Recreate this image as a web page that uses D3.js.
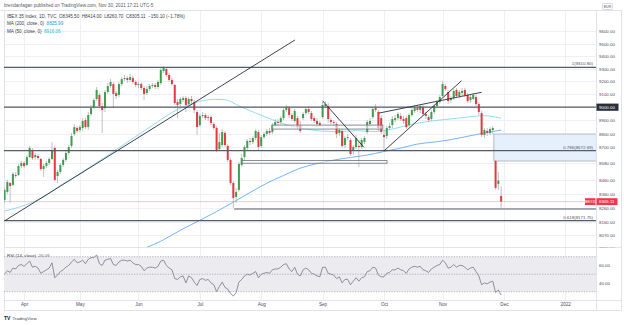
<!DOCTYPE html>
<html><head><meta charset="utf-8">
<script src="https://cdn.jsdelivr.net/npm/d3@7"></script>
<style>html,body{margin:0;padding:0;background:#fff;}svg{display:block;font-family:"Liberation Sans",Arial,sans-serif;}</style>
</head><body><svg id="c" width="624" height="325"></svg>
<script>
// ---------- DATA (daily bars, 23 Mar 2021 .. 30 Nov 2021, by bar index) ----------
const open = [8317,8374,8438,8424,8495,8495,8561,8583,8568,8626,
8678,8626,8634,8612,8539,8561,8583,8612,8693,8488,
8517,8568,8605,8656,8708,8797,8842,8827,8842,8902,
8849,8948,9001,9063,9094,9009,8993,9117,9164,9179,
9109,9094,9179,9218,9226,9211,9226,9195,9172,9179,
9148,9109,9140,9164,9172,9156,9187,9281,9297,9250,
9211,9172,9040,9024,9055,9070,9024,9063,9040,8963,
8864,8933,8940,8917,8925,8872,8842,8685,8715,8805,
8708,8605,8438,8338,8388,8568,8626,8693,8745,8737,
8767,8812,8708,8774,8797,8820,8812,8864,8887,8887,
8917,8978,8993,8940,8895,8917,8864,8917,8955,8986,
8955,8917,8895,8880,8925,9009,9009,8902,8887,8872,
8805,8820,8715,8767,8752,8671,8700,8708,8700,8737,
8812,8872,8925,8993,8963,8917,8790,8782,8842,8864,
8902,8917,8933,8910,8917,8864,8940,8971,8993,8978,
9001,8948,8925,8910,8963,9009,9040,9086,9164,9117,
9055,9070,9133,9086,9109,9133,9094,9055,9063,9078,
9024,8955,8790,8820,8805,8827,8597,8431,8345.5];
const high = [8402,8460,8445,8517,8517,8576,8597,8597,8641,8708,
8693,8656,8649,8619,8576,8597,8626,8737,8708,8532,
8583,8619,8671,8715,8805,8872,8857,8864,8917,8917,
8963,9017,9070,9156,9109,9032,9133,9187,9218,9195,
9125,9195,9234,9250,9242,9258,9242,9211,9195,9195,
9164,9164,9179,9187,9187,9211,9313,9321,9313,9266,
9226,9179,9063,9078,9086,9086,9078,9086,9055,8978,
8948,8963,8955,8940,8940,8887,8857,8805,8834,8820,
8722,8619,8452,8402,8590,8649,8715,8760,8767,8782,
8834,8827,8790,8812,8834,8842,8880,8910,8910,8933,
8993,9017,9009,8955,8986,8933,8895,8963,9001,9009,
8971,8933,8917,8895,9040,9047,9032,8917,8902,8887,
8842,8834,8782,8797,8767,8715,8790,8752,8767,8782,
8902,8917,9001,9024,8978,8940,8827,8857,8880,8933,
8940,8963,8955,8933,8933,8955,8993,9009,9017,9024,
9017,8963,8940,8978,9024,9055,9094,9203,9179,9133,
9086,9140,9148,9133,9148,9148,9109,9094,9109,9094,
9040,8971,8842,8842,8849,8857,8605,8517,8414];
const low = [8296,8360,8296,8416,8474,8488,8546,8546,8561,8619,
8605,8605,8605,8524,8481,8546,8568,8605,8452,8438,
8503,8553,8590,8641,8693,8782,8805,8812,8820,8834,
8827,8933,8986,9047,8993,8805,8963,9102,9148,8993,
9063,9078,9164,9203,9187,9195,9179,9156,9148,9133,
9055,9094,9125,9148,9140,9140,9172,9266,9234,9195,
9164,9017,8917,9001,9040,8963,9009,9024,8955,8790,
8849,8917,8902,8895,8864,8827,8663,8671,8700,8700,
8590,8424,8260,8296,8374,8553,8605,8678,8715,8722,
8752,8678,8693,8760,8782,8790,8797,8849,8864,8872,
8902,8963,8917,8895,8880,8834,8805,8902,8940,8948,
8895,8880,8849,8849,8910,8993,8880,8872,8857,8767,
8782,8693,8693,8752,8634,8641,8685,8553,8685,8722,
8797,8849,8910,8963,8820,8797,8678,8760,8827,8842,
8887,8902,8895,8872,8834,8849,8925,8955,8963,8955,
8933,8910,8887,8895,8948,8993,9024,9078,9125,9024,
9032,9055,9070,9070,9086,9078,9032,9032,9055,9009,
8940,8774,8767,8782,8790,8797,8388,8388,8260.7];
const close = [8388,8445,8416,8503,8488,8561,8583,8561,8626,8693,
8619,8641,8619,8539,8561,8583,8612,8678,8460,8517,
8568,8605,8656,8700,8782,8849,8820,8849,8895,8849,
8940,8993,9055,9133,9009,8978,9117,9164,9195,9102,
9086,9179,9218,9226,9211,9234,9195,9172,9179,9148,
9102,9140,9164,9172,9156,9195,9289,9305,9250,9211,
9179,9032,9017,9063,9070,9017,9063,9047,8978,8849,
8933,8940,8917,8925,8880,8842,8678,8737,8812,8715,
8605,8438,8331,8374,8576,8619,8700,8745,8737,8767,
8820,8700,8774,8797,8820,8805,8864,8887,8880,8917,
8978,9001,8940,8910,8971,8849,8820,8948,8986,8963,
8910,8895,8872,8864,9017,9024,8910,8887,8880,8797,
8827,8708,8767,8774,8649,8700,8767,8700,8752,8767,
8887,8895,8986,8978,8842,8812,8774,8842,8857,8910,
8917,8948,8910,8895,8849,8940,8978,8993,8978,9009,
8948,8933,8902,8963,9009,9040,9078,9179,9140,9047,
9070,9125,9086,9117,9125,9094,9047,9078,9094,9024,
8963,8790,8827,8805,8834,8842,8402.7,8455.21,8305.11];
const rsi = [50,54,52,57,56,60,61,59,62,65,
58,59,57,51,53,55,57,63,46,49,
53,55,58,60,64,67,63,64,66,62,
67,69,69,72,62,60,66,67,68,61,
60,64,66,66,65,66,63,61,61,59,
54,57,58,58,57,59,65,66,60,57,
55,45,44,47,48,40,48,46,41,37,
44,45,43,44,40,38,30,36,41,35,
33,28,25,29,41,44,48,50,49,51,
53,46,50,51,52,51,55,56,56,58,
61,62,56,53,58,50,48,55,57,55,
51,50,48,47,58,58,51,50,49,45,
47,40,44,44,38,42,46,42,46,47,
53,54,58,57,49,47,47,51,52,55,
55,57,55,54,51,56,58,59,58,59,
55,54,52,56,58,60,61,66,63,57,
58,61,58,60,60,58,55,57,58,53,
48,38,40,39,41,42,29,32,26.09];
// moving averages (bar index, value)
const ma50Idx = [0,5,10,15,20,25,30,35,40,45,50,55,60,65,70,75,79,84,90,96,102,108,114,120,126,132,138,144,150,156,162,168,172,176,178];
const ma50 = [8239,8265,8300,8350,8420,8480,8545,8610,8680,8750,8820,8890,8960,9010,9045,9060,9058,9010,8955,8905,8860,8835,8818,8815,8822,8815,8830,8860,8885,8902,8915,8930,8935,8925,8916.06];
const ma200Idx = [40,44,50,56,63,70,76,82,88,94,100,106,112,118,124,130,136,142,148,154,160,166,172,178];
const ma200 = [7900,7935,7980,8030,8105,8174,8235,8301,8370,8436,8492,8545,8578,8604,8623,8641,8667,8692,8722,8737,8755,8780,8805,8825.99];
// time axis
const monthIdx = [7,27,48,70,92,114,136,157,179,201];
const monthLabels = ["Apr","May","Jun","Jul","Aug","Sep","Oct","Nov","Dec","2022"];
const priceTicks = [9600,9500,9400,9300,9200,9100,8900,8800,8700,8580,8460,8360,8260,8160,8070,7980];
const rsiTicks = [60,40];
const rsiLevels = [70,50,30];
// drawings (bar index / price)
const fibLevels = [9310.8,8672.69,8171.75];
const fibLabels = ["1(9310.80)","0.786(8672.69)","0.618(8171.75)"];
const keyLevel = 9000;
const supportLevel = {start:82.3, price:8253};
const trendLines = [[0.16,8172,104.1,9530],[114.0,9049,128.8,8698],[136.0,8671,163.8,9205],[134.2,8955,171.0,9115]];
const boxes = [[85.1,8600,137.1,8581],[95.9,8864,135.6,8834]];
const gapBox = [175.4,8797,8597];
const header = "brendanfagan published on TradingView.com, Nov 30, 2021 17:21 UTC-5";
const legendMain = "IBEX 35 Index, 1D, TVC  O8345.50  H8414.00  L8260.70  C8305.11  \u2212150.10 (\u22121.78%)";

// ---------- CHART ----------
const svg = d3.select("#c");
svg.append("rect").attr("width",624).attr("height",325).attr("fill","#fff");
const x = d3.scaleLinear().domain([-0.2,212]).range([4,596]);
const y = d3.scaleLog().domain([9767.8,7990.4]).range([11,247]);
const yr = d3.scaleLinear().domain([30,70]).range([291.7,256.7]);
const defs = svg.append("defs");
defs.append("clipPath").attr("id","cm").append("rect").attr("x",4).attr("y",11).attr("width",592).attr("height",236);
defs.append("clipPath").attr("id","cr").append("rect").attr("x",4).attr("y",248).attr("width",592).attr("height",52);
defs.append("clipPath").attr("id","ca").append("rect").attr("x",0).attr("y",11).attr("width",28).attr("height",236.5);

// grid
const grid = svg.append("g");
monthIdx.forEach(m=>{const gx=Math.round(x(m))+0.5; if(gx<596) grid.append("line").attr("x1",gx).attr("x2",gx).attr("y1",11).attr("y2",300).attr("stroke","#eef0f5").attr("stroke-width",1);});
priceTicks.concat([keyLevel]).forEach(p=>{const gy=Math.round(y(p))+0.5; if(gy>11&&gy<247) grid.append("line").attr("x1",4).attr("x2",596).attr("y1",gy).attr("y2",gy).attr("stroke","#eef0f5").attr("stroke-width",1);});

// frames
const fr = svg.append("g").attr("stroke","#e0e3eb").attr("stroke-width",1).attr("fill","none");
fr.append("rect").attr("x",4.5).attr("y",10.5).attr("width",617).attr("height",300);
fr.append("line").attr("x1",596.5).attr("x2",596.5).attr("y1",10.5).attr("y2",310.5);
fr.append("line").attr("x1",4.5).attr("x2",621.5).attr("y1",247.5).attr("y2",247.5);
fr.append("line").attr("x1",4.5).attr("x2",621.5).attr("y1",300.5).attr("y2",300.5);
svg.append("line").attr("x1",0).attr("x2",4.5).attr("y1",10.5).attr("y2",10.5).attr("stroke","#e0e3eb");

// main pane
const main = svg.append("g").attr("clip-path","url(#cm)");
// gap box
main.append("rect").attr("x",x(gapBox[0])).attr("y",y(gapBox[1])).attr("width",600-x(gapBox[0])).attr("height",y(gapBox[2])-y(gapBox[1]))
  .attr("fill","#e6f0fc").attr("stroke","#8d939e").attr("stroke-width",0.6);
// MA lines
const maLine = d3.line().curve(d3.curveMonotoneX);
main.append("path").attr("d",maLine(ma200Idx.map((d,i)=>[x(d),y(ma200[i])]))).attr("fill","none").attr("stroke","#64acf3").attr("stroke-width",0.9);
main.append("path").attr("d",maLine(ma50Idx.map((d,i)=>[x(d),y(ma50[i])]))).attr("fill","none").attr("stroke","#86d9f0").attr("stroke-width",0.9);
// current price line
main.append("line").attr("x1",4).attr("x2",596).attr("y1",y(close[close.length-1])).attr("y2",y(close[close.length-1])).attr("stroke","#f7a3aa").attr("stroke-width",0.6);
// candles
const up="#3d9e4e", dn="#e3393f";
const cg = main.append("g");
close.forEach((c,i)=>{
  const o=open[i], col = c>=o?up:dn, cx=x(i);
  cg.append("line").attr("x1",cx).attr("x2",cx).attr("y1",y(high[i])).attr("y2",y(low[i])).attr("stroke","#a3a6ae").attr("stroke-width",0.7);
  const t=y(Math.max(o,c)), b=y(Math.min(o,c));
  cg.append("rect").attr("x",cx-1).attr("y",t).attr("width",2).attr("height",Math.max(0.7,b-t)).attr("fill",col);
});
// drawings
const dr = main.append("g");
fibLevels.concat([keyLevel]).forEach(p=>{dr.append("line").attr("x1",4).attr("x2",596).attr("y1",y(p)).attr("y2",y(p)).attr("stroke","#565a66").attr("stroke-width",1.2);});
dr.append("line").attr("x1",x(supportLevel.start)).attr("x2",596).attr("y1",y(supportLevel.price)).attr("y2",y(supportLevel.price)).attr("stroke","#565a66").attr("stroke-width",1);
boxes.forEach(b=>{dr.append("rect").attr("x",x(b[0])).attr("y",y(b[1])).attr("width",x(b[2])-x(b[0])).attr("height",y(b[3])-y(b[1])).attr("fill","rgba(255,255,255,0.55)").attr("stroke","#6b6f7a").attr("stroke-width",0.8);});
trendLines.forEach(t=>{dr.append("line").attr("x1",x(t[0])).attr("y1",y(t[1])).attr("x2",x(t[2])).attr("y2",y(t[3])).attr("stroke","#2a2e39").attr("stroke-width",0.9);});
fibLevels.forEach((p,i)=>{dr.append("text").attr("x",593).attr("y",y(p)-2).attr("text-anchor","end").attr("font-size",4.4).attr("fill","#50535e").text(fibLabels[i]);});

// legend
const lg = svg.append("g").attr("font-size",4.6).attr("fill","#3b3f4a");
lg.append("text").attr("x",4).attr("y",7.3).attr("fill","#555a66").text(header);
lg.append("text").attr("x",7).attr("y",17.7).attr("xml:space","preserve").text(legendMain);
const l3 = lg.append("text").attr("x",7).attr("y",25.3).attr("xml:space","preserve");
l3.append("tspan").text("MA (200, close, 0)  ");
l3.append("tspan").attr("fill","#2f8fe6").text(d3.format(".2f")(ma200[ma200.length-1]));
const l4 = lg.append("text").attr("x",7).attr("y",32.7).attr("xml:space","preserve");
l4.append("tspan").text("MA (50, close, 0)  ");
l4.append("tspan").attr("fill","#2bb7d9").text(d3.format(".2f")(ma50[ma50.length-1]));

// price axis
const pa = svg.append("g").attr("transform","translate(596,0)").attr("clip-path","url(#ca)")
  .call(d3.axisRight(y).tickValues(priceTicks).tickFormat(d3.format(".2f")).tickSize(0).tickPadding(3));
pa.select(".domain").remove();
pa.selectAll("text").attr("font-size",4.4).attr("fill","#4a4e59").attr("font-family","Liberation Sans, Arial, sans-serif");
// EUR badge
svg.append("rect").attr("x",602.5).attr("y",3.5).attr("width",10).attr("height",6).attr("rx",1).attr("fill","#fff").attr("stroke","#b2b5be").attr("stroke-width",0.5);
svg.append("text").attr("x",607.5).attr("y",7.8).attr("text-anchor","middle").attr("font-size",3.6).attr("fill","#4a4e59").text("EUR");
// 9000 label
svg.append("rect").attr("x",596.5).attr("y",y(keyLevel)-3.6).attr("width",22).attr("height",7.2).attr("fill","#2a2e39");
svg.append("text").attr("x",599).attr("y",y(keyLevel)+1.6).attr("font-size",4.4).attr("fill","#fff").text(d3.format(".2f")(keyLevel));
// last price labels
const lp = close[close.length-1];
svg.append("rect").attr("x",585).attr("y",y(lp)-3.4).attr("width",10.5).attr("height",6.8).attr("fill","#f23645");
svg.append("text").attr("x",590.25).attr("y",y(lp)+1.3).attr("text-anchor","middle").attr("font-size",3.3).attr("fill","#fff").text("IBEX35");
svg.append("rect").attr("x",596.5).attr("y",y(lp)-3.4).attr("width",21).attr("height",6.8).attr("fill","#f23645");
svg.append("text").attr("x",599).attr("y",y(lp)+1.6).attr("font-size",4.4).attr("fill","#fff").text(d3.format(".2f")(lp));

// RSI pane
const rp = svg.append("g").attr("clip-path","url(#cr)");
rp.append("rect").attr("x",4).attr("width",592).attr("y",yr(70)).attr("height",yr(30)-yr(70)).attr("fill","#ebebf0");
rsiLevels.forEach(l=>{rp.append("line").attr("x1",4).attr("x2",596).attr("y1",yr(l)).attr("y2",yr(l)).attr("stroke","#9a9ca5").attr("stroke-width",0.7).attr("stroke-dasharray","1.2,1.4");});
rp.append("path").attr("d",d3.line().x((d,i)=>x(i)).y(d=>yr(d))(rsi)).attr("fill","none").attr("stroke","#85868f").attr("stroke-width",0.9);
const rl = svg.append("text").attr("x",7).attr("y",256.6).attr("font-size",4.4).attr("fill","#3b3f4a").attr("xml:space","preserve");
rl.append("tspan").text("RSI (14, close)  ");
rl.append("tspan").attr("fill","#6b6d78").text(d3.format(".2f")(rsi[rsi.length-1]));
const ra = svg.append("g").attr("transform","translate(596,0)")
  .call(d3.axisRight(yr).tickValues(rsiTicks).tickFormat(d3.format(".2f")).tickSize(0).tickPadding(3));
ra.select(".domain").remove();
ra.selectAll("text").attr("font-size",4.4).attr("fill","#4a4e59").attr("font-family","Liberation Sans, Arial, sans-serif");

// time axis
const ta = svg.append("g").attr("transform","translate(0,300.5)")
  .call(d3.axisBottom(x).tickValues(monthIdx).tickFormat((d,i)=>monthLabels[i]).tickSize(0).tickPadding(2.4));
ta.select(".domain").remove();
ta.selectAll("text").attr("font-size",4.6).attr("fill","#4a4e59").attr("font-family","Liberation Sans, Arial, sans-serif");

// logo
svg.append("text").attr("x",4).attr("y",320).attr("font-size",5).attr("font-weight","bold").attr("fill","#131722").text("TV");
svg.append("text").attr("x",12.5).attr("y",319.8).attr("font-size",4.4).attr("fill","#3b3f4a").text("TradingView");
</script></body></html>
